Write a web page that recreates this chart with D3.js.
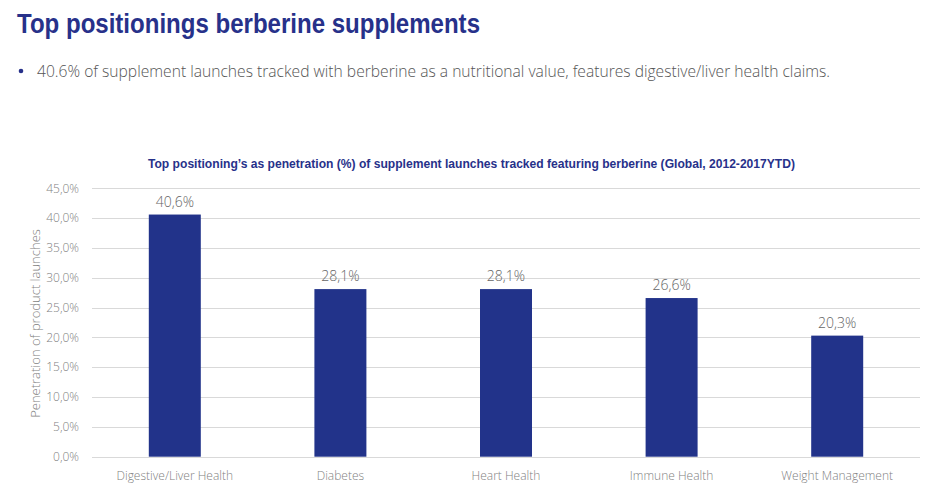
<!DOCTYPE html>
<html>
<head>
<meta charset="utf-8">
<script src="https://cdn.jsdelivr.net/npm/d3@7"></script>
<style>
  body { margin: 0; background: #fff; }
  svg { display: block; }
</style>
</head>
<body>
<svg id="chart" width="940" height="494"></svg>
<script>
// Data
const categories = ["Digestive/Liver Health", "Diabetes", "Heart Health", "Immune Health", "Weight Management"];
const penetration = [0.406, 0.281, 0.281, 0.266, 0.203];
const yTicks = [0, 0.05, 0.10, 0.15, 0.20, 0.25, 0.30, 0.35, 0.40, 0.45];

const pageTitle = "Top positionings berberine supplements";
const bulletText = "40.6% of supplement launches tracked with berberine as a nutritional value, features digestive/liver health claims.";
const chartTitle = "Top positioning\u2019s as penetration (%) of supplement launches tracked featuring berberine (Global, 2012-2017YTD)";
const yAxisTitle = "Penetration of product launches";

const svg = d3.select("#chart");
const navy = "#22338a";
const lightFont = "'Open Sans', 'Noto Sans', sans-serif";

// Comma decimal, like the reference
const pct = d => (d * 100).toFixed(1).replace(".", ",") + "%";

// Page heading
svg.append("text")
  .attr("x", 17)
  .attr("y", 33)
  .attr("font-family", "'Liberation Sans', Arial, sans-serif")
  .attr("font-weight", "bold")
  .attr("font-size", "27px")
  .attr("fill", "#27318a")
  .attr("textLength", 463)
  .attr("lengthAdjust", "spacingAndGlyphs")
  .text(pageTitle);

// Bullet
svg.append("circle")
  .attr("cx", 21)
  .attr("cy", 71)
  .attr("r", 2.3)
  .attr("fill", "#27318a");

svg.append("text")
  .attr("x", 37)
  .attr("y", 77)
  .attr("font-family", lightFont)
  .attr("font-weight", 300)
  .attr("font-size", "15.5px")
  .attr("fill", "#555")
  .attr("textLength", 793)
  .attr("lengthAdjust", "spacingAndGlyphs")
  .text(bulletText);

// Chart title
svg.append("text")
  .attr("x", 148)
  .attr("y", 168)
  .attr("font-family", "'Liberation Sans Narrow', 'Liberation Sans', Arial, sans-serif")
  .attr("font-weight", "bold")
  .attr("font-size", "12.5px")
  .attr("fill", "#27318a")
  .attr("textLength", 647)
  .attr("lengthAdjust", "spacingAndGlyphs")
  .text(chartTitle);

// Scales
const x = d3.scaleBand()
  .domain(categories)
  .range([92, 920])
  .paddingInner(0.686)
  .paddingOuter(0.343);

const y = d3.scaleLinear()
  .domain([0, 0.45])
  .range([456.7, 188.3]);

// Gridlines
svg.append("g")
  .selectAll("line")
  .data(yTicks)
  .enter()
  .append("line")
  .attr("x1", 92)
  .attr("x2", 920)
  .attr("y1", d => Math.round(y(d)) + 0.5)
  .attr("y2", d => Math.round(y(d)) + 0.5)
  .attr("stroke", "#d9d9d9")
  .attr("stroke-width", 1);

// Y axis tick labels
svg.append("g")
  .selectAll("text")
  .data(yTicks)
  .enter()
  .append("text")
  .attr("x", 79)
  .attr("y", d => y(d))
  .attr("dy", "0.35em")
  .attr("text-anchor", "end")
  .attr("font-family", lightFont)
  .attr("font-weight", 300)
  .attr("font-size", "12px")
  .attr("fill", "#7f7f7f")
  .text(d => pct(d));

// Y axis title
svg.append("text")
  .attr("transform", `translate(40, ${(y(0) + y(0.45)) / 2 + 1}) rotate(-90)`)
  .attr("text-anchor", "middle")
  .attr("font-family", lightFont)
  .attr("font-weight", 300)
  .attr("font-size", "13px")
  .attr("fill", "#7f7f7f")
  .text(yAxisTitle);

// Bars
const bars = svg.append("g")
  .selectAll("g")
  .data(categories.map((c, i) => ({ category: c, value: penetration[i] })))
  .enter()
  .append("g");

bars.append("rect")
  .attr("x", d => x(d.category))
  .attr("y", d => y(d.value))
  .attr("width", x.bandwidth())
  .attr("height", d => y(0) - y(d.value))
  .attr("fill", navy);

// Value labels
bars.append("text")
  .attr("x", d => x(d.category) + x.bandwidth() / 2)
  .attr("y", d => y(d.value) - 8)
  .attr("text-anchor", "middle")
  .attr("font-family", lightFont)
  .attr("font-weight", 300)
  .attr("font-size", "14px")
  .attr("fill", "#666")
  .text(d => pct(d.value));

// Category labels
bars.append("text")
  .attr("x", d => x(d.category) + x.bandwidth() / 2)
  .attr("y", 480)
  .attr("text-anchor", "middle")
  .attr("font-family", lightFont)
  .attr("font-weight", 300)
  .attr("font-size", "12px")
  .attr("fill", "#7f7f7f")
  .text(d => d.category);
</script>
</body>
</html>
